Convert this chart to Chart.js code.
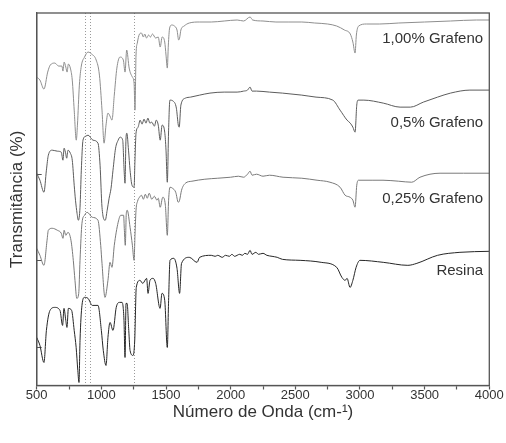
<!DOCTYPE html>
<html><head><meta charset="utf-8">
<script src="https://cdn.jsdelivr.net/npm/chart.js@4.4.1/dist/chart.umd.min.js"></script>
<style>html,body{margin:0;padding:0;background:#fff}</style>
</head><body>
<canvas id="c" width="506" height="443"></canvas>
<script>
// Wavenumber (cm-1) vs transmittance (arbitrary, stacked offsets)
const seriesNames = ['1,00% Grafeno', '0,5% Grafeno', '0,25% Grafeno', 'Resina'];

const grafeno100 = [[500,308],[525,305],[556,296],[585,313],[605,320],[640,322],[670,319],[695,319],[703,314],[712,323],[725,318],[735,313],[745,321],[760,317],[775,305],[790,275],[806,245],[815,260],[830,300],[845,319],[870,328],[897,333],[925,331],[960,325],[985,310],[1005,275],[1021,242],[1036,260],[1051,272],[1067,269],[1082,265],[1100,290],[1120,317],[1144,328],[1170,325],[1183,313],[1196,335],[1215,317],[1240,308],[1253,302],[1260,275],[1268,330],[1278,342],[1295,351],[1310,352],[1325,348],[1335,351],[1350,347],[1365,350],[1380,348],[1395,351],[1420,347],[1440,348],[1455,338],[1470,348],[1490,343],[1500,330],[1510,317],[1518,340],[1528,357],[1545,360],[1565,359],[1585,355],[1598,345],[1605,347],[1615,355],[1640,359],[1680,362],[1760,363],[1850,363],[1950,364],[2050,365],[2100,364],[2150,368],[2170,365],[2250,364],[2350,363],[2450,363],[2550,363],[2650,362],[2750,361],[2820,359],[2880,355],[2925,351],[2945,343],[2962,332],[2972,350],[2990,359],[3050,361],[3150,361],[3300,362],[3500,363],[3700,364],[3900,365],[4000,365]];

const grafeno050 = [[500,212],[525,205],[556,193],[575,215],[590,230],[620,235],[660,234],[690,233],[703,225],[712,237],[722,233],[732,227],[742,235],[760,232],[775,225],[790,200],[800,185],[812,172],[822,165],[835,178],[845,215],[858,245],[880,249],[897,250],[935,245],[974,242],[990,220],[1005,178],[1030,165],[1045,175],[1060,187],[1075,197],[1090,215],[1110,237],[1130,245],[1145,248],[1165,245],[1176,215],[1183,202],[1190,245],[1197,252],[1210,235],[1222,215],[1237,200],[1253,198],[1260,225],[1268,252],[1284,258],[1300,265],[1315,261],[1330,266],[1345,262],[1360,267],[1375,262],[1390,263],[1410,259],[1425,265],[1440,260],[1455,245],[1470,260],[1490,253],[1500,235],[1510,203],[1520,255],[1530,285],[1555,284],[1580,277],[1595,260],[1602,258],[1615,280],[1650,287],[1690,288],[1760,290],[1840,292],[1950,293],[2050,293],[2100,294],[2130,295],[2150,298],[2165,294],[2200,294],[2300,293],[2400,292],[2550,290],[2660,288],[2790,285],[2846,275],[2900,265],[2925,262],[2945,258],[2962,253],[2975,280],[2985,285],[3030,285],[3180,282],[3310,278],[3390,278],[3490,283],[3600,288],[3700,292],[3850,295],[4000,295]];

const grafeno025 = [[500,137],[525,130],[556,120],[580,145],[590,155],[620,157],[660,155],[690,152],[703,147],[712,155],[725,150],[742,153],[765,145],[783,125],[796,105],[810,87],[825,92],[835,125],[850,162],[870,170],[890,173],[930,168],[974,165],[995,140],[1005,122],[1028,88],[1051,105],[1067,123],[1082,118],[1100,140],[1130,163],[1150,170],[1172,170],[1178,155],[1185,140],[1193,172],[1200,175],[1222,158],[1240,140],[1253,125],[1260,150],[1268,175],[1280,184],[1295,188],[1310,190],[1325,186],[1340,191],[1355,187],[1370,192],[1390,186],[1410,189],[1430,185],[1440,187],[1455,178],[1475,188],[1495,180],[1510,150],[1520,185],[1531,198],[1550,197],[1575,193],[1595,183],[1605,185],[1620,195],[1650,202],[1700,204],[1800,206],[1900,207],[2000,208],[2060,209],[2100,208],[2130,211],[2150,214],[2165,210],[2200,211],[2250,209],[2300,210],[2405,208],[2550,207],[2668,205],[2768,203],[2846,198],[2885,190],[2923,188],[2945,185],[2962,178],[2975,200],[2990,205],[3100,205],[3178,205],[3300,204],[3400,203],[3464,208],[3619,212],[3800,212],[4000,212]];

const resina = [[500,48],[525,40],[556,23],[575,55],[603,75],[640,78],[680,75],[700,60],[711,77],[725,65],[734,58],[745,77],[770,75],[790,55],[805,38],[818,15],[827,3],[835,45],[850,80],[870,88],[897,87],[930,80],[974,80],[1000,55],[1015,35],[1036,20],[1051,48],[1067,63],[1090,55],[1115,78],[1140,83],[1160,83],[1175,65],[1183,28],[1191,82],[1199,82],[1212,55],[1222,35],[1245,30],[1258,45],[1270,98],[1299,105],[1320,102],[1350,107],[1361,92],[1376,105],[1400,107],[1420,102],[1454,77],[1469,92],[1490,85],[1510,38],[1520,85],[1531,125],[1560,127],[1585,117],[1605,92],[1620,122],[1680,128],[1740,123],[1760,128],[1850,130],[1880,129],[1900,130],[1935,128],[1960,130],[1990,129],[2010,131],[2030,129],[2070,131],[2090,130],[2110,132],[2130,131],[2150,135],[2165,131],[2195,133],[2215,131],[2250,132],[2280,130],[2320,129],[2360,128],[2400,126],[2537,125],[2700,123],[2820,118],[2860,108],[2885,105],[2900,107],[2923,98],[2945,105],[2970,118],[3000,125],[3180,123],[3370,120],[3440,122],[3600,130],[3773,133],[4000,134]];

const markerLines = [870, 915, 1250];          // dotted reference wavenumbers
const xRange = [500, 4000];
const xStep = 250;
const xLabelStep = 500;
const yRange = [0, 372];
const yTickValues = [38, 124.5, 211];
const labelAnchors = [[3952, 346.5], [3952, 262.5], [3952, 186.5], [3952, 114]];

const FONT = '"Liberation Sans", Arial, sans-serif';
const seriesData = [grafeno100, grafeno050, grafeno025, resina];
const seriesColors = ['#8e8e8e', '#5c5c5c', '#7a7a7a', '#262626'];

const decor = {
  id: 'decor',
  beforeDatasetsDraw(chart) {
    const {ctx, chartArea: a, scales: {x}} = chart;
    ctx.save();
    ctx.strokeStyle = '#9a9a9a'; ctx.lineWidth = 1; ctx.setLineDash([1, 2]);
    markerLines.forEach(w => {
      const px = Math.round(x.getPixelForValue(w)) + 0.5;
      ctx.beginPath(); ctx.moveTo(px, a.top); ctx.lineTo(px, a.bottom); ctx.stroke();
    });
    ctx.restore();
  },
  afterDatasetsDraw(chart) {
    const {ctx, chartArea: a, scales: {x, y}} = chart;
    ctx.save();
    ctx.strokeStyle = '#555'; ctx.lineWidth = 1.3;
    ctx.strokeRect(a.left, a.top, a.right - a.left, a.bottom - a.top);
    ctx.fillStyle = '#333'; ctx.font = '15px ' + FONT;
    ctx.textAlign = 'right'; ctx.textBaseline = 'middle';
    seriesNames.forEach((n, i) => ctx.fillText(n, x.getPixelForValue(labelAnchors[i][0]), y.getPixelForValue(labelAnchors[i][1])));
    ctx.restore();
  }
};

new Chart(document.getElementById('c'), {
  type: 'line',
  data: {
    datasets: seriesData.map((d, i) => ({
      label: seriesNames[i],
      data: d.map(p => ({x: p[0], y: p[1]})),
      borderColor: seriesColors[i],
      borderWidth: 1,
      pointRadius: 0,
      cubicInterpolationMode: 'monotone',
      fill: false
    }))
  },
  options: {
    responsive: false,
    animation: false,
    layout: {padding: {left: 0, top: 13, right: 16.7, bottom: 0}},
    plugins: {legend: {display: false}, tooltip: {enabled: false}},
    scales: {
      x: {
        type: 'linear', min: xRange[0], max: xRange[1],
        afterFit: s => { s.height = 57.5; },
        ticks: {
          stepSize: xStep, autoSkip: false, maxRotation: 0, padding: -1,
          color: '#333', font: {family: FONT, size: 13, lineHeight: 1},
          callback: v => (v % xLabelStep === 0 ? String(v) : '')
        },
        grid: {drawOnChartArea: false, drawTicks: true, tickLength: 4, color: '#555', tickWidth: 1.2},
        border: {color: '#555', width: 1.3},
        title: {display: true, text: 'Número de Onda (cm-¹)', color: '#333', font: {family: FONT, size: 17}, padding: {top: 0, bottom: 20}}
      },
      y: {
        type: 'linear', min: yRange[0], max: yRange[1],
        afterFit: s => { s.width = 36.7; },
        afterBuildTicks: s => { s.ticks = yTickValues.map(v => ({value: v})); },
        ticks: {display: false},
        grid: {drawOnChartArea: false, drawTicks: true, tickLength: -5, color: '#555', tickWidth: 1},
        border: {color: '#555', width: 1.3},
        title: {display: true, text: 'Transmitância (%)', color: '#333', font: {family: FONT, size: 17}, padding: {top: 7, bottom: 0}}
      }
    }
  },
  plugins: [decor]
});
</script>
</body></html>
